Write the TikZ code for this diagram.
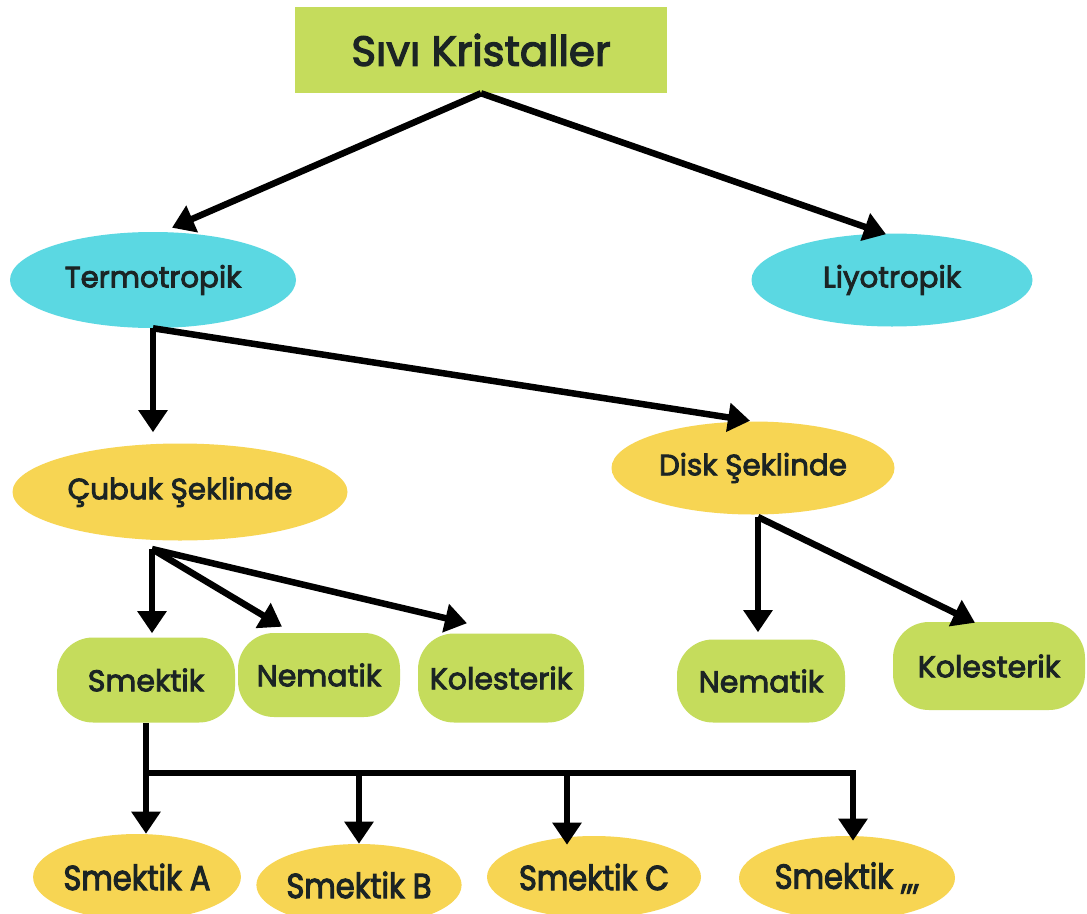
\documentclass[tikz,border=0pt]{standalone}
\usepackage{fontspec}
\setmainfont{Poppins}[FakeBold=3]
\newfontfamily\condfont{Poppins}[FakeStretch=0.88,FakeBold=3]
\usetikzlibrary{arrows.meta,shapes.geometric}
\definecolor{boxgreen}{HTML}{C5DC5C}
\definecolor{ovcyan}{HTML}{5BD8E2}
\definecolor{ovyellow}{HTML}{F7D553}
\definecolor{txtdark}{HTML}{1B2424}
\newcommand\pxl[1]{#1*0.75pt}
\tikzset{
  link/.style={line width=\pxl{6.5}, black},
  arr/.style={link, -{Triangle[width=\pxl{28},length=\pxl{22}]}},
  titlebox/.style={fill=boxgreen, inner sep=0pt, text=txtdark,
    minimum width=\pxl{372}, minimum height=\pxl{86},
    font=\fontsize{31.5}{36}\selectfont},
  cyanov/.style={ellipse, fill=ovcyan, inner sep=0pt, text=txtdark,
    font=\fontsize{22}{26}\selectfont},
  yellowov/.style={ellipse, fill=ovyellow, inner sep=0pt, text=txtdark,
    font=\fontsize{22}{26}\selectfont},
  greenbox/.style={rectangle, rounded corners=\pxl{36}, fill=boxgreen, inner sep=0pt,
    text=txtdark, font=\fontsize{22.5}{26}\selectfont},
  smallov/.style={ellipse, fill=ovyellow, inner sep=0pt, text=txtdark,
    font=\condfont\fontsize{26}{30}\selectfont},
}
\begin{document}
\begin{tikzpicture}[x=0.75pt,y=-0.75pt]
\fill[white] (0,0) rectangle (1087,913);
\useasboundingbox (0,0) rectangle (1087,913);

\node[titlebox] (title) at (481,50) {Sıvı Kristaller};

\node[cyanov, minimum width=\pxl{286}, minimum height=\pxl{96}] (termo) at (153,280) {Termotropik};
\node[cyanov, minimum width=\pxl{281}, minimum height=\pxl{93}] (liyo) at (892,280) {Liyotropik};

\node[yellowov, minimum width=\pxl{335}, minimum height=\pxl{97}] (cubuk) at (180,492) {Çubuk Şeklinde};
\node[yellowov, minimum width=\pxl{283}, minimum height=\pxl{93}] (disk) at (753,468) {Disk Şeklinde};

\node[greenbox, minimum width=\pxl{178}, minimum height=\pxl{85}] (smektik) at (146,680) {Smektik};
\node[greenbox, minimum width=\pxl{162}, minimum height=\pxl{84}] (nem1) at (319,675) {Nematik};
\node[greenbox, minimum width=\pxl{166}, minimum height=\pxl{89}] (kol1) at (501,678) {Kolesterik};
\node[greenbox, minimum width=\pxl{168}, minimum height=\pxl{83}] (nem2) at (761,681) {Nematik};
\node[greenbox, minimum width=\pxl{192}, minimum height=\pxl{88}] (kol2) at (989,666) {Kolesterik};

\node[smallov, minimum width=\pxl{198}, minimum height=\pxl{86}] (sA) at (137,877) {Smektik A};
\node[smallov, minimum width=\pxl{203}, minimum height=\pxl{82}] (sB) at (359,885) {Smektik B};
\node[smallov, minimum width=\pxl{214}, minimum height=\pxl{82}] (sC) at (594,877) {Smektik C};
\node[smallov, minimum width=\pxl{216}, minimum height=\pxl{84}] (sD) at (847,878) {Smektik ,,,};

% level 1
\draw[arr] (title.south) -- ([xshift=\pxl{19},yshift=\pxl{4}]termo.north);
\draw[arr] (title.south) -- ([xshift=\pxl{-6},yshift=\pxl{-1}]liyo.north);

% termotropik
\draw[arr, shorten >=\pxl{11}] (termo.south) -- (termo.south |- cubuk.north);
\draw[arr, shorten >=\pxl{3}] (termo.south) -- (disk.north);

% cubuk
\coordinate (cubukfoot) at (152,549);
\draw[arr, shorten >=\pxl{4}] (cubukfoot) -- (cubukfoot |- smektik.north);
\draw[arr] (cubukfoot) -- ([xshift=\pxl{-37},yshift=\pxl{6}]nem1.north);
\draw[arr] (cubukfoot) -- ([xshift=\pxl{-34},yshift=\pxl{10}]kol1.north);

% disk
\coordinate (diskfoot) at (758,517);
\draw[arr, shorten >=\pxl{7}] (diskfoot) -- (diskfoot |- nem2.north);
\draw[arr] (diskfoot) -- ([xshift=\pxl{-14},yshift=\pxl{-1}]kol2.north);

% smektik bus
\coordinate (busL) at (146,773);
\coordinate (busR) at (853,773);
\draw[link] (smektik.south) -- (busL);
\draw[link, line cap=rect] (busL) -- (busR);
\coordinate (cTop) at ([xshift=\pxl{-27},yshift=\pxl{-9}]sC.north);
\draw[arr] (busL) -- (busL |- sA.north);
\draw[arr] (sB.north |- busL) -- (sB.north);
\draw[arr] (cTop |- busL) -- (cTop);
\draw[arr, shorten >=\pxl{-5}] (busR) -- (busR |- sD.north);
\end{tikzpicture}
\end{document}
